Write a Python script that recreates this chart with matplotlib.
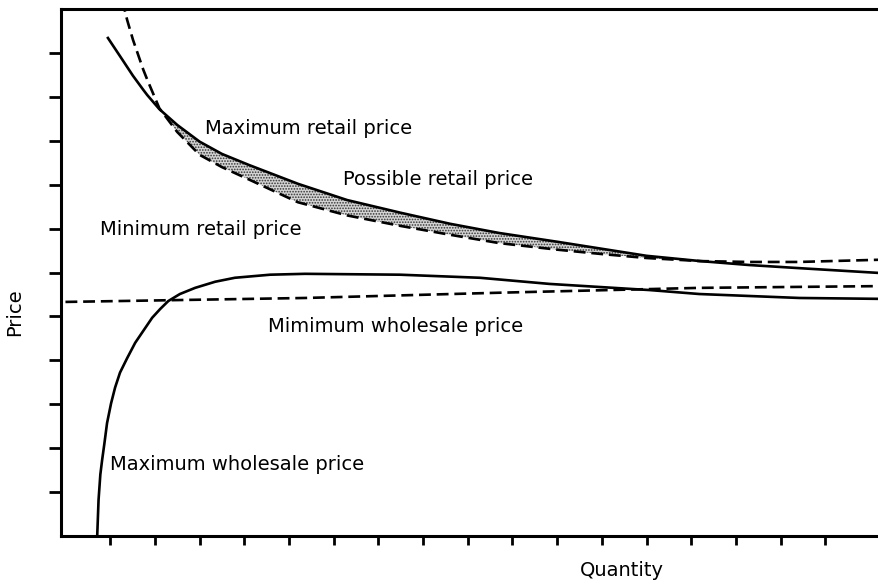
#!/usr/bin/env python3
"""
Retail / wholesale price bounds vs. quantity (schematic, no numeric tick labels).
"""

import numpy as np
import matplotlib
matplotlib.use('Agg')
import matplotlib.pyplot as plt

# Quantity positions shared by both retail curves (tick spacing = 1 unit)
retail_x = [0.95, 1.27, 1.38, 1.51, 1.74, 1.83, 2.1, 2.5, 3.0, 3.5, 4.1, 5.2,
            6.3, 7.5, 8.6, 9.7, 11.0, 12.0, 13.0, 14.2, 15.3, 16.4, 18.2]
max_retail = [11.34, 10.85, 10.68, 10.48, 10.16, 10.04, 9.72, 9.36, 8.98, 8.70,
              8.45, 8.02, 7.65, 7.36, 7.11, 6.90, 6.70, 6.54, 6.38, 6.26, 6.17,
              6.10, 5.99]
min_retail = [np.nan, 12.2, 11.75, 11.30, 10.62, 10.39, 9.74, 9.20, 8.68, 8.40,
              8.12, 7.60, 7.30, 7.06, 6.86, 6.67, 6.52, 6.42, 6.33, 6.26, 6.24,
              6.24, 6.29]

min_wholesale_x = [0.0, 5.36, 9.72, 14.18, 18.2]
min_wholesale = [5.33, 5.42, 5.54, 5.65, 5.69]

max_wholesale_x = [0.71, 0.74, 0.78, 0.82, 0.87, 0.93, 1.02, 1.11, 1.22, 1.38,
                   1.56, 1.74, 1.94, 2.12, 2.30, 2.56, 2.90, 3.35, 3.79, 4.58,
                   5.36, 7.48, 9.27, 10.83, 13.07, 14.18, 16.42, 18.2]
max_wholesale = [0.0, 0.82, 1.40, 1.73, 2.10, 2.57, 3.02, 3.38, 3.72, 4.05,
                 4.40, 4.67, 4.97, 5.17, 5.35, 5.51, 5.65, 5.79, 5.88, 5.95,
                 5.97, 5.95, 5.88, 5.74, 5.60, 5.51, 5.42, 5.40]

x_ticks = list(range(1, 18))
y_ticks = list(range(1, 12))

# label text, left x, centre y
labels = [
    ('Maximum retail price', 3.12, 9.29),
    ('Possible retail price', 6.20, 8.11),
    ('Minimum retail price', 0.78, 6.97),
    ('Mimimum wholesale price', 4.53, 4.76),
    ('Maximum wholesale price', 1.00, 1.62),
]

plt.rcParams['font.family'] = ['DejaVu Sans']
plt.rcParams['hatch.linewidth'] = 0.8

fig = plt.figure(figsize=(8.79, 5.86), dpi=100)
ax = fig.add_axes([61 / 879, 1 - 536 / 586, 818 / 879, 527 / 586])

LW = 1.9
ax.plot(retail_x, max_retail, color='black', lw=LW)
ax.plot(retail_x, min_retail, color='black', lw=LW, dashes=(4.5, 2.2))
ax.plot(min_wholesale_x, min_wholesale, color='black', lw=LW, dashes=(4.5, 2.2))
ax.plot(max_wholesale_x, max_wholesale, color='black', lw=LW)

# shaded (stippled) band of possible retail prices
mx = np.array(max_retail)
mn = np.array(min_retail)
ax.fill_between(retail_x, mx, mn, where=(mx >= mn), interpolate=True,
                facecolor='#d4d4d4', edgecolor='#333333', hatch='......', lw=0)

for txt, x, y in labels:
    ax.text(x, y, txt, ha='left', va='center', fontsize=14)

ax.set_xlim(-0.1, 18.2)
ax.set_ylim(0, 12)
ax.set_xticks(x_ticks)
ax.set_yticks(y_ticks)
ax.set_xticklabels([])
ax.set_yticklabels([])
ax.tick_params(axis='x', direction='out', length=6.5, width=2)
ax.tick_params(axis='y', direction='out', length=8.5, width=2)

ax.spines['right'].set_visible(False)
for s in ('left', 'bottom', 'top'):
    ax.spines[s].set_linewidth(2.2)

fig.text(622 / 879, 1 - 571 / 586, 'Quantity', ha='center', va='center', fontsize=14)
fig.text(15 / 879, 1 - 312 / 586, 'Price', ha='center', va='center',
         rotation=90, fontsize=14)

fig.savefig('out.png', dpi=100)
